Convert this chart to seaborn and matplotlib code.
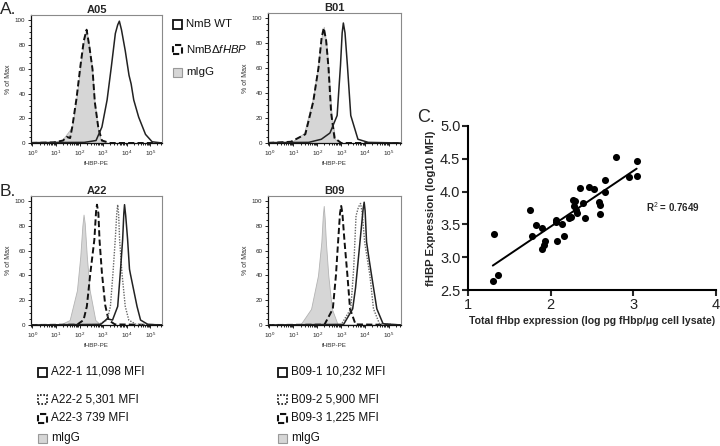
import numpy as np
import matplotlib
matplotlib.use("Agg")
import matplotlib.pyplot as plt
from matplotlib.patches import Rectangle
from matplotlib.ticker import AutoMinorLocator, FormatStrFormatter
import seaborn as sns

# Flow histograms: x = log10(fHBP-PE), y = % of Max
a05_igg_x = [-0.06, 0.97, 1.25, 1.68, 1.86, 2.03, 2.17, 2.28, 2.40, 2.53, 2.63, 2.77, 2.91, 3.2, 5.5]
a05_igg_y = [0, 1, 2, 13, 35, 62, 81, 93, 80, 62, 35, 13, 2, 0, 0]
a05_ko_x = [-0.06, 0.9, 1.3, 1.45, 1.6, 1.7, 1.87, 2.04, 2.18, 2.3, 2.42, 2.55, 2.65, 2.8, 2.95, 3.3, 5.5]
a05_ko_y = [0, 0.5, 2, 5, 4, 14, 36, 63, 83, 92, 78, 60, 33, 12, 2, 0, 0]
a05_wt_x = [-0.06, 2.2, 2.70, 2.95, 3.17, 3.35, 3.52, 3.62, 3.69, 3.78, 3.94, 4.10, 4.19, 4.30, 4.51, 4.80, 5.08, 5.5]
a05_wt_y = [0.3, 0.5, 2, 13, 35, 62, 89, 96, 99, 92, 75, 55, 48, 35, 21, 7, 1, 0]

b01_igg_x = [-0.06, 0.94, 1.45, 1.81, 2.03, 2.18, 2.27, 2.38, 2.46, 2.60, 2.75, 3.0, 5.5]
b01_igg_y = [0, 1, 8, 35, 62, 85, 93, 80, 62, 22, 3, 0, 0]
b01_ko_x = [-0.06, 0.9, 1.5, 1.83, 2.05, 2.18, 2.27, 2.37, 2.47, 2.58, 2.72, 3.0, 5.5]
b01_ko_y = [0, 1, 7, 33, 60, 84, 92, 82, 60, 24, 4, 0, 0]
b01_wt_x = [-0.06, 1.64, 2.17, 2.53, 2.83, 2.97, 3.04, 3.09, 3.16, 3.26, 3.40, 3.70, 4.13, 5.5]
b01_wt_y = [0.3, 0.5, 3, 8, 22, 62, 88, 96, 88, 62, 22, 3, 0.5, 0]

a22_igg_x = [-0.06, 1.2, 1.58, 1.89, 2.03, 2.12, 2.17, 2.22, 2.31, 2.43, 2.67, 2.9, 5.5]
a22_igg_y = [0, 0.5, 4, 28, 55, 80, 89, 82, 55, 28, 4, 0, 0]
a22_3_x = [-0.06, 1.9, 2.17, 2.31, 2.46, 2.63, 2.70, 2.74, 2.80, 2.85, 2.95, 3.09, 3.23, 3.5, 5.5]
a22_3_y = [0, 0.3, 4, 15, 42, 69, 91, 97, 90, 68, 42, 16, 4, 0.5, 0]
a22_2_x = [-0.06, 2.8, 3.17, 3.31, 3.42, 3.52, 3.58, 3.62, 3.66, 3.70, 3.80, 3.94, 4.09, 4.4, 5.5]
a22_2_y = [0, 0.3, 4, 15, 42, 70, 90, 97, 89, 69, 42, 15, 4, 0.5, 0]
a22_1_x = [-0.06, 2.9, 3.17, 3.40, 3.62, 3.73, 3.83, 3.88, 3.91, 3.96, 4.04, 4.12, 4.16, 4.30, 4.44, 4.59, 4.9, 5.5]
a22_1_y = [0, 0.5, 5, 4, 15, 42, 69, 90, 97, 88, 69, 45, 41, 28, 15, 4, 0.5, 0]

b09_igg_x = [-0.06, 1.3, 1.74, 2.03, 2.17, 2.23, 2.27, 2.31, 2.36, 2.46, 2.61, 2.85, 5.5]
b09_igg_y = [0, 0.5, 13, 40, 67, 88, 96, 86, 67, 40, 13, 0.5, 0]
b09_3_x = [-0.06, 2.3, 2.65, 2.78, 2.87, 2.95, 3.0, 3.05, 3.14, 3.26, 3.37, 3.6, 5.5]
b09_3_y = [0, 0.3, 13, 40, 67, 90, 96, 90, 67, 40, 13, 0.5, 0]
b09_2_x = [-0.06, 3.0, 3.40, 3.52, 3.62, 3.72, 3.81, 3.88, 3.98, 4.20, 4.35, 4.6, 5.5]
b09_2_y = [0, 0.3, 13, 45, 88, 95, 98, 90, 67, 40, 13, 1, 0]
b09_1_x = [-0.06, 3.1, 3.48, 3.60, 3.72, 3.84, 3.92, 3.96, 4.00, 4.06, 4.15, 4.27, 4.49, 4.75, 5.5]
b09_1_y = [0, 0.5, 13, 30, 54, 78, 94, 99, 92, 67, 55, 40, 13, 1, 0]

# Panel C scatter
total_fhbp = [1.30, 1.36, 1.32, 1.75, 1.78, 1.82, 1.90, 1.90, 1.92, 1.93, 2.06, 2.06, 2.08, 2.14,
              2.16, 2.24, 2.22, 2.27, 2.28, 2.31, 2.32, 2.30, 2.36, 2.39, 2.42, 2.46, 2.53, 2.59,
              2.60, 2.60, 2.66, 2.66, 2.79, 2.95, 3.04, 3.04]
fhbp_mfi = [2.63, 2.73, 3.35, 3.72, 3.32, 3.49, 3.44, 3.12, 3.19, 3.25, 3.57, 3.53, 3.25, 3.50,
            3.33, 3.61, 3.60, 3.87, 3.78, 3.72, 3.67, 3.85, 4.06, 3.83, 3.59, 4.07, 4.04, 3.84,
            3.80, 3.66, 4.17, 4.00, 4.52, 4.23, 4.46, 4.24]

legend_a = ["NmB WT", "NmB\u0394$\\mathit{fHBP}$", "mIgG"]
legend_a22 = ["A22-1 11,098 MFI", "A22-2 5,301 MFI", "A22-3 739 MFI", "mIgG"]
legend_b09 = ["B09-1 10,232 MFI", "B09-2 5,900 MFI", "B09-3 1,225 MFI", "mIgG"]

sns.set_theme(style="ticks")
plt.rcParams['font.family'] = ['Liberation Sans', 'DejaVu Sans']
plt.rcParams['mathtext.fontset'] = 'custom'
plt.rcParams['mathtext.rm'] = 'Liberation Sans'
plt.rcParams['mathtext.it'] = 'Liberation Sans:italic'

W, H = 720, 446
fig = plt.figure(figsize=(7.2, 4.46), dpi=100)


def rect(l, t, r, b):
    return [l / W, 1 - b / H, (r - l) / W, (b - t) / H]


IGG_FACE = '#d6d6d6'
IGG_EDGE = '#b3b3b3'


def flow_axes(box, title):
    ax = fig.add_axes(rect(*box))
    ax.set_xscale('log')
    ax.set_xlim(10 ** -0.06, 10 ** 5.5)
    ax.set_ylim(0, 104)
    ax.set_xticks(10.0 ** np.arange(0, 6))
    ax.set_yticks(range(0, 101, 20))
    ax.yaxis.set_minor_locator(AutoMinorLocator(4))
    ax.tick_params(which='both', labelsize=4.5, width=0.7, colors='#222', pad=1.5)
    ax.tick_params(which='major', length=2.5)
    ax.tick_params(which='minor', length=1.3)
    for s in ['left', 'bottom']:
        ax.spines[s].set_color('#111')
        ax.spines[s].set_linewidth(0.9)
    for s in ['top', 'right']:
        ax.spines[s].set_color('#8a8a8a')
        ax.spines[s].set_linewidth(0.8)
    ax.set_title(title, fontsize=8, fontweight='bold', pad=1.5)
    ax.set_ylabel('% of Max', fontsize=5, labelpad=2, color='#333')
    ax.set_xlabel('fHBP-PE', fontsize=4.5, labelpad=2, color='#333')
    ax.grid(False)
    return ax


def igg(ax, x, y):
    ax.fill_between(10 ** np.array(x), y, color=IGG_FACE, edgecolor=IGG_EDGE, lw=0.6, zorder=1)


def curve(ax, x, y, kind):
    styles = {
        'solid': dict(color='#222', lw=1.1, ls='-'),
        'dashed': dict(color='#111', lw=1.4, ls=(0, (3.2, 1.6))),
        'dotted': dict(color='#666', lw=1.0, ls=(0, (1, 1))),
    }
    ax.plot(10 ** np.array(x), y, zorder=3, **styles[kind])


ax = flow_axes((31, 15, 162, 143), 'A05')
igg(ax, a05_igg_x, a05_igg_y)
curve(ax, a05_ko_x, a05_ko_y, 'dashed')
curve(ax, a05_wt_x, a05_wt_y, 'solid')

ax = flow_axes((268, 13, 401, 143), 'B01')
igg(ax, b01_igg_x, b01_igg_y)
curve(ax, b01_ko_x, b01_ko_y, 'dashed')
curve(ax, b01_wt_x, b01_wt_y, 'solid')

ax = flow_axes((31, 196, 162, 325), 'A22')
igg(ax, a22_igg_x, a22_igg_y)
curve(ax, a22_3_x, a22_3_y, 'dashed')
curve(ax, a22_2_x, a22_2_y, 'dotted')
curve(ax, a22_1_x, a22_1_y, 'solid')

ax = flow_axes((268, 196, 401, 325), 'B09')
igg(ax, b09_igg_x, b09_igg_y)
curve(ax, b09_3_x, b09_3_y, 'dashed')
curve(ax, b09_2_x, b09_2_y, 'dotted')
curve(ax, b09_1_x, b09_1_y, 'solid')


def key(x, y, kind, label, fs, size=9):
    kw = dict(facecolor='white', edgecolor='#111', lw=1.3)
    if kind == 'dashed':
        kw.update(facecolor='none', ls=(0, (3, 1.5)), lw=1.5)
    elif kind == 'dotted':
        kw.update(facecolor='none', ls=(0, (1, 1)), lw=1.2)
    elif kind == 'igg':
        kw.update(facecolor=IGG_FACE, edgecolor='#999', lw=0.8)
    fig.add_artist(Rectangle((x / W, 1 - (y + size / 2) / H), size / W, size / H,
                             transform=fig.transFigure, **kw))
    fig.text((x + size + 4) / W, 1 - y / H, label, fontsize=fs, va='center', ha='left', color='#111')


for yy, kind, lab in zip([24, 49, 72], ['solid', 'dashed', 'igg'], legend_a):
    key(173, yy, kind, lab, 8.2)
for yy, kind, lab in zip([372, 399, 418, 438], ['solid', 'dotted', 'dashed', 'igg'], legend_a22):
    key(38, yy, kind, lab, 8.5)
for yy, kind, lab in zip([372, 399, 418, 438], ['solid', 'dotted', 'dashed', 'igg'], legend_b09):
    key(278, yy, kind, lab, 8.5)

# Panel C
axc = fig.add_axes(rect(468, 126, 716, 290))
sns.scatterplot(x=total_fhbp, y=fhbp_mfi, color='black', s=26, edgecolor='black', linewidth=0, ax=axc)
sns.regplot(x=total_fhbp, y=fhbp_mfi, scatter=False, ci=None, color='black',
            line_kws=dict(lw=1.4), ax=axc)
axc.set_xlim(1, 4)
axc.set_ylim(2.5, 5.0)
axc.set_xticks([1, 2, 3, 4])
axc.set_yticks(np.arange(2.5, 5.01, 0.5))
axc.yaxis.set_major_formatter(FormatStrFormatter('%.1f'))
sns.despine(ax=axc)
for s in ['left', 'bottom']:
    axc.spines[s].set_linewidth(1.5)
    axc.spines[s].set_color('black')
axc.tick_params(length=4, width=1.5, labelsize=10.5, labelcolor='#222', pad=1.5)
axc.set_xlabel('Total fHbp expression (log pg fHbp/\u03bcg cell lysate)', fontsize=7.6,
               fontweight='bold', labelpad=3)
axc.set_ylabel('fHBP Expression (log10 MFI)', fontsize=8.2, fontweight='bold', labelpad=3)
axc.text(3.15, 3.76, 'R$^2$ = 0.7649', fontsize=7, fontweight='bold', va='center', ha='left')
axc.grid(False)

# Panel letters
fig.text(0 / W, 1 - 10 / H, 'A.', fontsize=12.5, va='center', ha='left')
fig.text(0 / W, 1 - 191 / H, 'B.', fontsize=12.5, va='center', ha='left')
fig.text(417 / W, 1 - 118 / H, 'C.', fontsize=13, va='center', ha='left')

fig.savefig('out.png', dpi=100)
